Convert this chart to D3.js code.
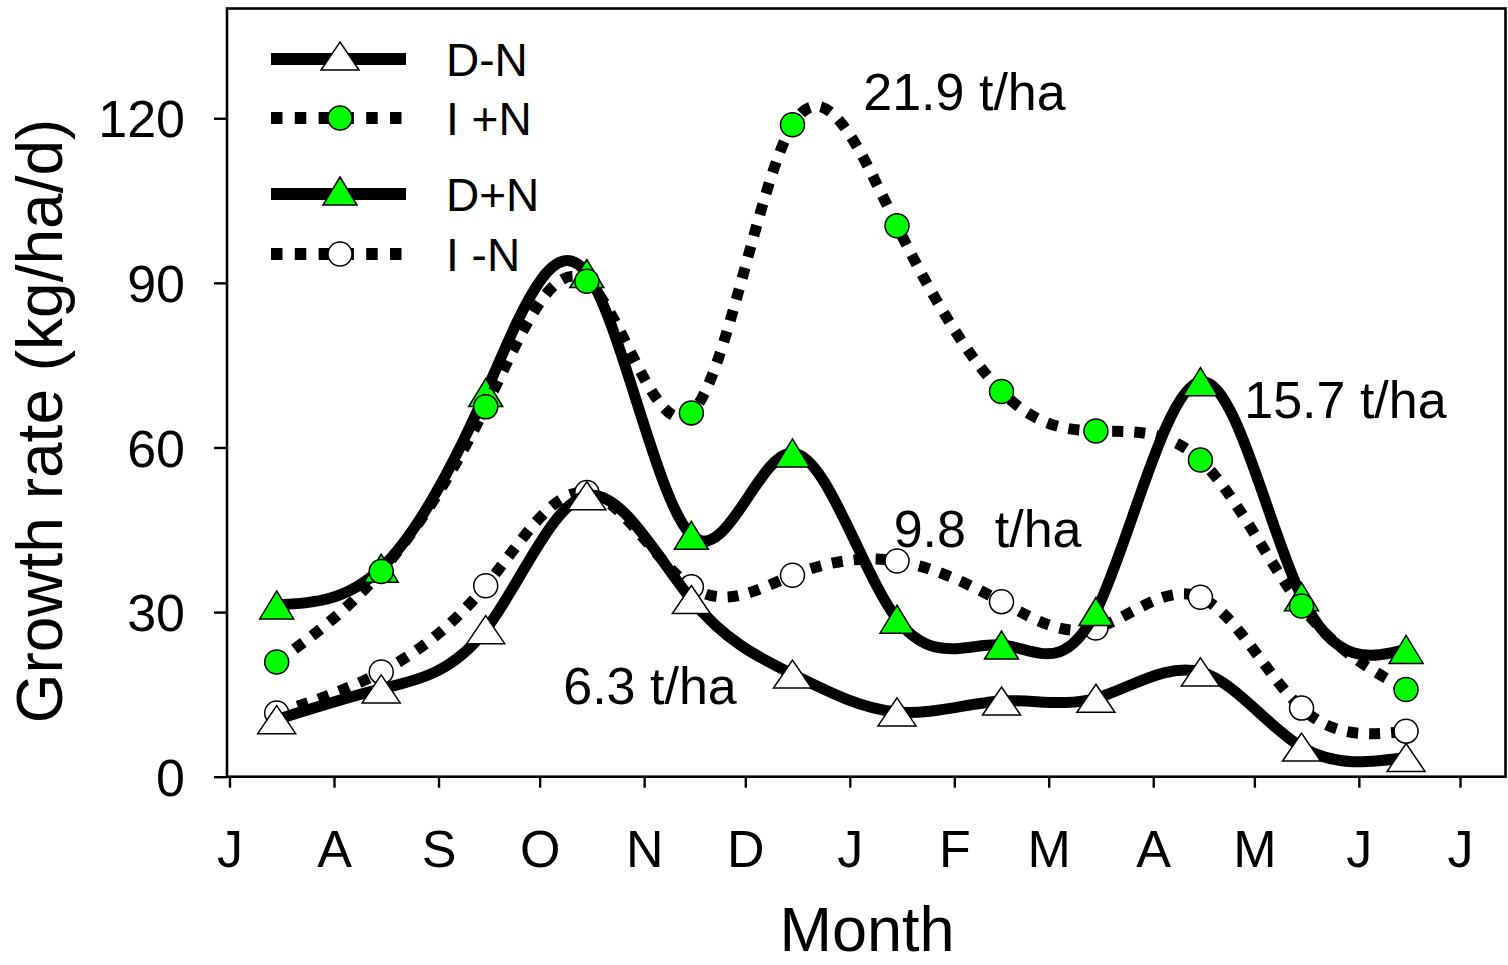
<!DOCTYPE html>
<html>
<head>
<meta charset="utf-8">
<script src="https://cdn.jsdelivr.net/npm/d3@7"></script>
<style>
  html, body { margin: 0; padding: 0; background: #fff; }
  svg { display: block; font-family: "Liberation Sans", Arial, sans-serif; }
</style>
</head>
<body>
<svg id="chart" width="1508" height="965"></svg>
<script>
// ---- data ----
const monthLabels = ["J","A","S","O","N","D","J","F","M","A","M","J","J"];
const sampleMonths = ["2001-07-15","2001-08-15","2001-09-15","2001-10-15","2001-11-15","2001-12-15",
                      "2002-01-15","2002-02-15","2002-03-15","2002-04-15","2002-05-15","2002-06-15"];
const dMinusN = [10.4, 16.0, 26.8, 51.2, 32.3, 18.7, 11.8, 13.8, 14.3, 19.1, 5.4, 3.5];
const iPlusN  = [20.9, 37.4, 67.4, 90.3, 66.3, 118.8, 100.4, 70.2, 63.0, 57.7, 31.1, 15.9];
const dPlusN  = [31.3, 38.0, 70.0, 91.7, 44.0, 59.0, 28.7, 24.0, 30.1, 72.0, 32.8, 23.2];
const iMinusN = [11.6, 19.1, 34.8, 51.8, 34.6, 36.7, 39.3, 31.9, 27.1, 32.7, 12.5, 8.3];
const yTicks = [0, 30, 60, 90, 120];
const annotations = [
  {text: "21.9 t/ha", date: "2002-01-05", value: 121.5},
  {text: "15.7 t/ha", date: "2002-04-28", value: 65.3},
  {text: "9.8  t/ha", date: "2002-01-14", value: 41.9},
  {text: "6.3 t/ha",  date: "2001-10-08", value: 13.2}
];

const series = [
  {name: "I -N", values: iMinusN, dashed: true,  marker: "circle",   fill: "#ffffff"},
  {name: "D-N",  values: dMinusN, dashed: false, marker: "triangle", fill: "#ffffff"},
  {name: "D+N",  values: dPlusN,  dashed: false, marker: "triangle", fill: "#00ff00"},
  {name: "I +N", values: iPlusN,  dashed: true,  marker: "circle",   fill: "#00ff00"}
];
const legendOrder = ["D-N", "I +N", "D+N", "I -N"];

// ---- layout ----
const svg = d3.select("#chart");
const parse = d3.utcParse("%Y-%m-%d");
const frame = {left: 227, right: 1505.5, top: 8.5, bottom: 776.7};

const x = d3.scaleUtc()
  .domain([parse("2001-07-01"), parse("2002-07-01")])
  .range([229.5, 1460]);
const y = d3.scaleLinear().domain([0, 140]).range([frame.bottom, frame.top]);

// frame
svg.append("rect")
  .attr("x", frame.left).attr("y", frame.top)
  .attr("width", frame.right - frame.left).attr("height", frame.bottom - frame.top)
  .attr("fill", "none").attr("stroke", "#000").attr("stroke-width", 2.6);

// x axis
const monthTicks = d3.utcMonth.range(parse("2001-07-01"), parse("2002-07-02"));
const xAxis = d3.axisBottom(x).tickValues(monthTicks)
  .tickSize(11).tickSizeOuter(0)
  .tickFormat((d, i) => monthLabels[i]);
const gx = svg.append("g").attr("transform", `translate(0,${frame.bottom})`).call(xAxis);
gx.select(".domain").remove();
gx.selectAll(".tick line").attr("stroke", "#000").attr("stroke-width", 2.4);
gx.selectAll(".tick text").attr("font-size", 52).attr("fill", "#000")
  .attr("font-family", "Liberation Sans, Arial, sans-serif")
  .attr("y", 90).attr("dy", 0);

// y axis
const yAxis = d3.axisLeft(y).tickValues(yTicks).tickSize(13).tickSizeOuter(0).tickPadding(0);
const gy = svg.append("g").attr("transform", `translate(${frame.left},0)`).call(yAxis);
gy.select(".domain").remove();
gy.selectAll(".tick line").attr("stroke", "#000").attr("stroke-width", 2.4);
gy.selectAll(".tick text").attr("font-size", 52).attr("fill", "#000")
  .attr("font-family", "Liberation Sans, Arial, sans-serif")
  .attr("x", -42).attr("dy", "0.36em");

// axis titles
svg.append("text").attr("x", 867).attr("y", 951)
  .attr("text-anchor", "middle").attr("font-size", 63).text("Month");
svg.append("text")
  .attr("transform", "translate(62,421) rotate(-90)")
  .attr("text-anchor", "middle").attr("font-size", 64).text("Growth rate (kg/ha/d)");

// lines
const line = d3.line()
  .x(d => x(d.date)).y(d => y(d.value))
  .curve(d3.curveNatural);

function triPath(w, h) {
  return `M0,${-h/2}L${w/2},${h/2}L${-w/2},${h/2}Z`;
}
function drawMarker(g, type, fill) {
  if (type === "circle") {
    g.append("circle").attr("r", 12).attr("fill", fill)
      .attr("stroke", "#000").attr("stroke-width", 1.5);
  } else {
    const w = fill === "#ffffff" ? 38 : 34;
    g.append("path").attr("d", triPath(w, 28)).attr("fill", fill)
      .attr("stroke", "#000").attr("stroke-width", 1.5);
  }
}

series.forEach(s => {
  const pts = s.values.map((v, i) => ({date: parse(sampleMonths[i]), value: v}));
  const g = svg.append("g");
  g.append("path").datum(pts).attr("d", line)
    .attr("fill", "none").attr("stroke", "#000").attr("stroke-width", 11)
    .attr("stroke-dasharray", s.dashed ? "11,11" : null)
    .attr("stroke-linecap", "butt");
  pts.forEach(p => {
    const m = g.append("g").attr("transform", `translate(${x(p.date)},${y(p.value)})`);
    drawMarker(m, s.marker, s.fill);
  });
});

// annotations
annotations.forEach(a => {
  svg.append("text").attr("x", x(parse(a.date))).attr("y", y(a.value))
    .attr("font-size", 52).attr("xml:space", "preserve").style("white-space", "pre")
    .text(a.text);
});

// legend
const legendY = [59, 118, 194, 254];
legendOrder.forEach((name, i) => {
  const s = series.find(d => d.name === name);
  const g = svg.append("g").attr("transform", `translate(0,${legendY[i]})`);
  g.append("line").attr("x1", 271).attr("x2", 406).attr("y1", 0).attr("y2", 0)
    .attr("stroke", "#000").attr("stroke-width", 12)
    .attr("stroke-dasharray", s.dashed ? "11.5,12.3" : null);
  const m = g.append("g").attr("transform", `translate(340,${s.marker === "triangle" ? -3 : 0})`);
  drawMarker(m, s.marker, s.fill);
  g.append("text").attr("x", 446).attr("y", 17).attr("font-size", 46)
    .style("white-space", "pre").text(name);
});
</script>
</body>
</html>
